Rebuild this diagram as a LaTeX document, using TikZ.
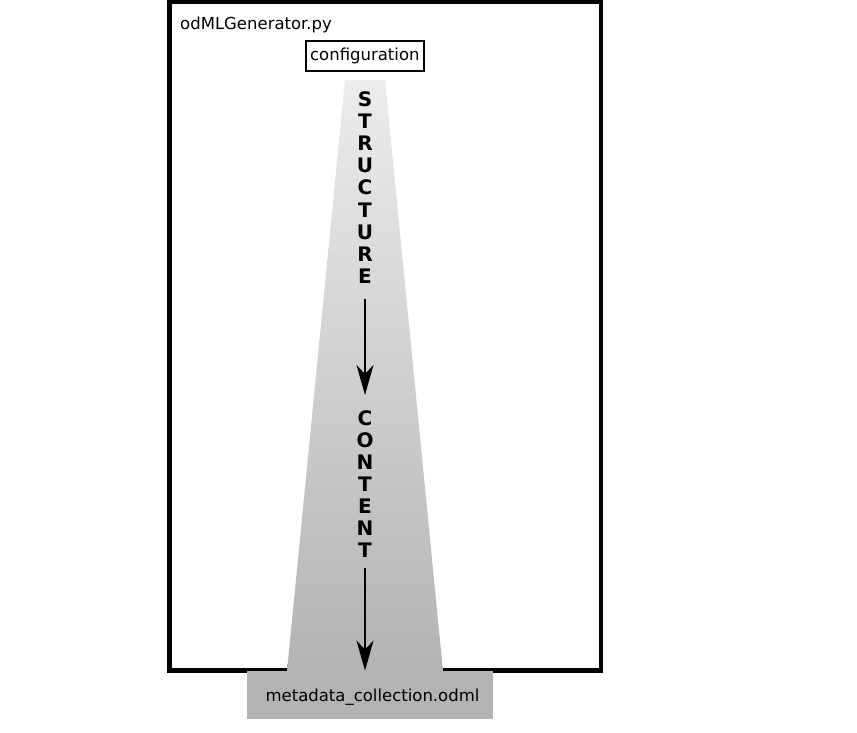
\documentclass[tikz,border=0pt]{standalone}
\usepackage{fontspec}
\setmainfont{DejaVu Sans}
\usetikzlibrary{arrows.meta}
\definecolor{shtop}{RGB}{236,236,236}
\definecolor{shbot}{RGB}{179,179,179}
\tikzset{
  lbl/.style={inner sep=0pt, font=\fontsize{16.5}{20}\selectfont},
  vword/.style={inner sep=0pt, align=center, anchor=north, font=\fontsize{20}{22.1}\selectfont\bfseries},
  flow/.style={line width=2pt, -{Stealth[length=30pt,width=17pt,inset=9pt]}},
}
\begin{document}
\begin{tikzpicture}[x=1pt,y=-1pt]
\useasboundingbox (0,0) rectangle (857,732);
% frame
\draw[line width=4.5pt] (169.7,2) rectangle (601,670.5);
\node[lbl, anchor=base west] (gen) at (180,29) {odMLGenerator.py};
\node[lbl, draw, line width=2pt, minimum width=118.3pt, minimum height=30.3pt] (conf) at (364.85,55.85) {configuration};
% funnel
\shade[top color=shtop, bottom color=shbot] (345,80) -- (385,80) -- (443,671.2) -- (287,671.2) -- cycle;
% output
\node[lbl, fill=shbot, minimum width=246pt, minimum height=48.5pt] (meta) at (370,695) {};
\node[lbl, anchor=base] (metatext) at (372.5,701.5) {metadata\_collection.odml};
% words
\node[vword] (structure) at (365,91.5) {S\\T\\R\\U\\C\\T\\U\\R\\E};
\node[vword] (content) at (365,410) {C\\O\\N\\T\\E\\N\\T};
\draw[flow, shorten <=15pt, shorten >=15pt] (structure.south) -- (content.north);
\draw[flow, shorten <=10pt] (content.south) -- (content.south |- meta.north);
\end{tikzpicture}
\end{document}
